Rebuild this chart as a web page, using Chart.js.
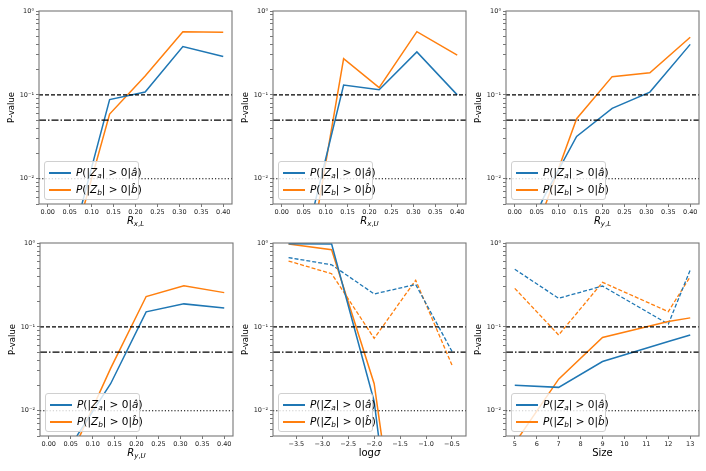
<!DOCTYPE html>
<html>
<head>
<meta charset="utf-8">
<script src="https://cdn.jsdelivr.net/npm/chart.js@4.4.0/dist/chart.umd.min.js"></script>
<style>
  body { margin: 0; background: #fff; width: 706px; height: 471px; position: relative; overflow: hidden; font-family: "DejaVu Sans", sans-serif; }
  .panel { position: absolute; }
  .xtitle { position: absolute; text-align: center; font-size: 10px; line-height: 12px; color: #000; white-space: nowrap; }
  .legend { position: absolute; width: 95px; height: 39px; box-sizing: border-box; border: 1px solid #d0d0d0; border-radius: 3px; background: rgba(255,255,255,0.8); }
  .row { position: absolute; left: 0; height: 17px; width: 100%; }
  .swatch { position: absolute; left: 4px; top: 8px; width: 22px; height: 1.6px; }
  .label { position: absolute; left: 31px; top: 0; font-size: 10.5px; line-height: 17px; white-space: nowrap; color: #000; }
  sub { font-size: 70%; vertical-align: -0.25em; line-height: 0; }
</style>
</head>
<body>
<script>
// x grids
const rGrid = [0.0, 0.066, 0.141, 0.222, 0.308, 0.40];
const logSigma = [-3.65, -2.82, -2.0, -1.2, -0.5];
const sizes = [5, 7, 9, 12, 13];

// p-values, a = blue, b = orange
const rxL_a = [0.0008, 0.0029, 0.088, 0.108, 0.376, 0.286];
const rxL_b = [0.0006, 0.0023, 0.059, 0.168, 0.567, 0.557];
const rxU_a = [0.0008, 0.0032, 0.131, 0.115, 0.325, 0.100];
const rxU_b = [0.0004, 0.0014, 0.270, 0.122, 0.567, 0.297];
const ryL_a = [0.0010, 0.0060, 0.032, 0.069, 0.108, 0.400];
const ryL_b = [0.0008, 0.0043, 0.052, 0.165, 0.183, 0.486];
const ryU_a = [0.0010, 0.0052, 0.021, 0.151, 0.188, 0.168];
const ryU_b = [0.0008, 0.0044, 0.032, 0.230, 0.310, 0.256];

const sig_a = [0.98, 0.97, 0.0129, 0.0000015, 0.0000001];
const sig_b = [0.97, 0.83, 0.021, 0.0000066, 0.0000001];
const sig_a_dash = [0.67, 0.55, 0.247, 0.32, 0.051];
const sig_b_dash = [0.61, 0.43, 0.073, 0.36, 0.035];

const size_a = [0.0202, 0.019, 0.0386, 0.067, 0.080];
const size_b = [0.0041, 0.0238, 0.0746, 0.116, 0.128];
const size_a_dash = [0.486, 0.219, 0.307, 0.108, 0.477];
const size_b_dash = [0.288, 0.080, 0.34, 0.152, 0.397];

// significance levels drawn across each panel
const refLevels = [0.1, 0.05, 0.01];
const refDashes = [[4, 2], [7, 2, 1.5, 2], [1.2, 2]];

// ticks
const rTicks = [0, 0.05, 0.10, 0.15, 0.20, 0.25, 0.30, 0.35, 0.40];
const sigTicks = [-3.5, -3.0, -2.5, -2.0, -1.5, -1.0, -0.5];
const sizeTicks = [5, 6, 7, 8, 9, 10, 11, 12, 13];
const yTicks = [0.005, 0.006, 0.007, 0.008, 0.009,
  0.01, 0.02, 0.03, 0.04, 0.05, 0.06, 0.07, 0.08, 0.09,
  0.1, 0.2, 0.3, 0.4, 0.5, 0.6, 0.7, 0.8, 0.9, 1];

const BLUE = '#1f77b4', ORANGE = '#ff7f0e';
const FONT = 'DejaVu Sans';
const PW = 193, PH = 193;

const legendA = '<i>P</i>(|<i>Z</i><sub><i>a</i></sub>| &gt; 0|<i>â</i>)';
const legendB = '<i>P</i>(|<i>Z</i><sub><i>b</i></sub>| &gt; 0|<i>b\u0302</i>)';

const sup = { '0': '⁰', '1': '¹', '2': '²', '-': '⁻' };
function yLabel(v) {
  const e = Math.log10(v);
  if (Math.abs(e - Math.round(e)) > 1e-6) return '';
  return '10' + String(Math.round(e)).split('').map(c => sup[c]).join('');
}

const framePlugin = {
  id: 'frame',
  afterDraw(chart) {
    const { ctx, chartArea: a } = chart;
    ctx.save();
    ctx.strokeStyle = '#777';
    ctx.lineWidth = 1.1;
    ctx.strokeRect(a.left, a.top, a.right - a.left, a.bottom - a.top);
    ctx.restore();
  }
};

function pts(xs, ys) {
  return xs.map((x, i) => ({ x: x, y: ys[i] }));
}

function makePanel(p) {
  const div = document.createElement('div');
  div.className = 'panel';
  div.style.left = (p.pos[0] - 40) + 'px';
  div.style.top = (p.pos[1] - 8) + 'px';
  const canvas = document.createElement('canvas');
  canvas.width = PW + 46;
  canvas.height = PH + 44;
  div.appendChild(canvas);
  document.body.appendChild(div);

  const datasets = refLevels.map((lvl, i) => ({
    data: [{ x: p.xMin, y: lvl }, { x: p.xMax, y: lvl }],
    borderColor: '#000', borderWidth: 1.2, borderDash: refDashes[i]
  }));
  p.series.forEach(s => datasets.push({
    data: pts(p.xs, s.ys),
    borderColor: s.color, borderWidth: s.dash ? 1.3 : 1.5,
    borderDash: s.dash ? [4, 2] : []
  }));

  new Chart(canvas.getContext('2d'), {
    type: 'line',
    data: { datasets: datasets },
    options: {
      responsive: false,
      animation: false,
      events: [],
      layout: { padding: { top: 8, right: 6, left: 0, bottom: 0 } },
      elements: { point: { radius: 0 }, line: { tension: 0, fill: false } },
      plugins: { legend: { display: false }, tooltip: { enabled: false } },
      scales: {
        x: {
          type: 'linear', min: p.xMin, max: p.xMax,
          afterBuildTicks: s => { s.ticks = p.xTicks.map(v => ({ value: v })); },
          afterFit: s => { s.height = 36; },
          ticks: { font: { family: FONT, size: 6.5 }, color: '#222', padding: 1,
                   autoSkip: false, maxRotation: 0, callback: p.xFmt },
          grid: { drawOnChartArea: false, tickLength: 3, color: '#777' },
          border: { display: false }
        },
        y: {
          type: 'logarithmic', min: 0.005, max: 1,
          afterBuildTicks: s => { s.ticks = yTicks.map(v => ({ value: v })); },
          afterFit: s => { s.width = 40; },
          ticks: { font: { family: FONT, size: 6.5 }, color: '#222', padding: 2,
                   autoSkip: false, callback: v => yLabel(v) },
          grid: { drawOnChartArea: false, tickLength: 3, color: '#777' },
          border: { display: false },
          title: { display: true, text: 'P-value', color: '#000',
                   font: { family: FONT, size: 8.5 }, padding: { top: 8, bottom: 0 } }
        }
      }
    },
    plugins: [framePlugin]
  });

  const xt = document.createElement('div');
  xt.className = 'xtitle';
  xt.style.left = p.pos[0] + 'px';
  xt.style.width = PW + 'px';
  xt.style.top = (p.pos[1] + PH + 11) + 'px';
  xt.innerHTML = p.xTitle;
  document.body.appendChild(xt);

  const lg = document.createElement('div');
  lg.className = 'legend';
  lg.style.left = (p.pos[0] + 5) + 'px';
  lg.style.top = (p.pos[1] + PH - 4 - 39) + 'px';
  lg.innerHTML =
    '<div class="row" style="top:2px"><div class="swatch" style="background:' + BLUE + '"></div><div class="label">' + legendA + '</div></div>' +
    '<div class="row" style="top:19px"><div class="swatch" style="background:' + ORANGE + '"></div><div class="label">' + legendB + '</div></div>';
  document.body.appendChild(lg);
}

const fmt2 = v => v.toFixed(2);
const fmtSig = v => v.toFixed(1).replace('-', '\u2212');
const fmtInt = v => String(v);

const panels = [
  { pos: [39, 11], xs: rGrid, xMin: -0.02, xMax: 0.42, xTicks: rTicks, xFmt: fmt2,
    xTitle: '<i>R</i><sub><i>x</i>,<i>L</i></sub>',
    series: [{ ys: rxL_a, color: BLUE }, { ys: rxL_b, color: ORANGE }] },
  { pos: [273, 11], xs: rGrid, xMin: -0.02, xMax: 0.42, xTicks: rTicks, xFmt: fmt2,
    xTitle: '<i>R</i><sub><i>x</i>,<i>U</i></sub>',
    series: [{ ys: rxU_a, color: BLUE }, { ys: rxU_b, color: ORANGE }] },
  { pos: [506, 11], xs: rGrid, xMin: -0.02, xMax: 0.42, xTicks: rTicks, xFmt: fmt2,
    xTitle: '<i>R</i><sub><i>y</i>,<i>L</i></sub>',
    series: [{ ys: ryL_a, color: BLUE }, { ys: ryL_b, color: ORANGE }] },
  { pos: [40, 243], xs: rGrid, xMin: -0.02, xMax: 0.42, xTicks: rTicks, xFmt: fmt2,
    xTitle: '<i>R</i><sub><i>y</i>,<i>U</i></sub>',
    series: [{ ys: ryU_a, color: BLUE }, { ys: ryU_b, color: ORANGE }] },
  { pos: [273, 243], xs: logSigma, xMin: -3.95, xMax: -0.23, xTicks: sigTicks, xFmt: fmtSig,
    xTitle: 'log<i>σ</i>',
    series: [{ ys: sig_a, color: BLUE }, { ys: sig_b, color: ORANGE },
             { ys: sig_a_dash, color: BLUE, dash: true }, { ys: sig_b_dash, color: ORANGE, dash: true }] },
  { pos: [506, 243], xs: sizes, xMin: 4.6, xMax: 13.4, xTicks: sizeTicks, xFmt: fmtInt,
    xTitle: 'Size',
    series: [{ ys: size_a, color: BLUE }, { ys: size_b, color: ORANGE },
             { ys: size_a_dash, color: BLUE, dash: true }, { ys: size_b_dash, color: ORANGE, dash: true }] }
];

panels.forEach(makePanel);
</script>
</body>
</html>
